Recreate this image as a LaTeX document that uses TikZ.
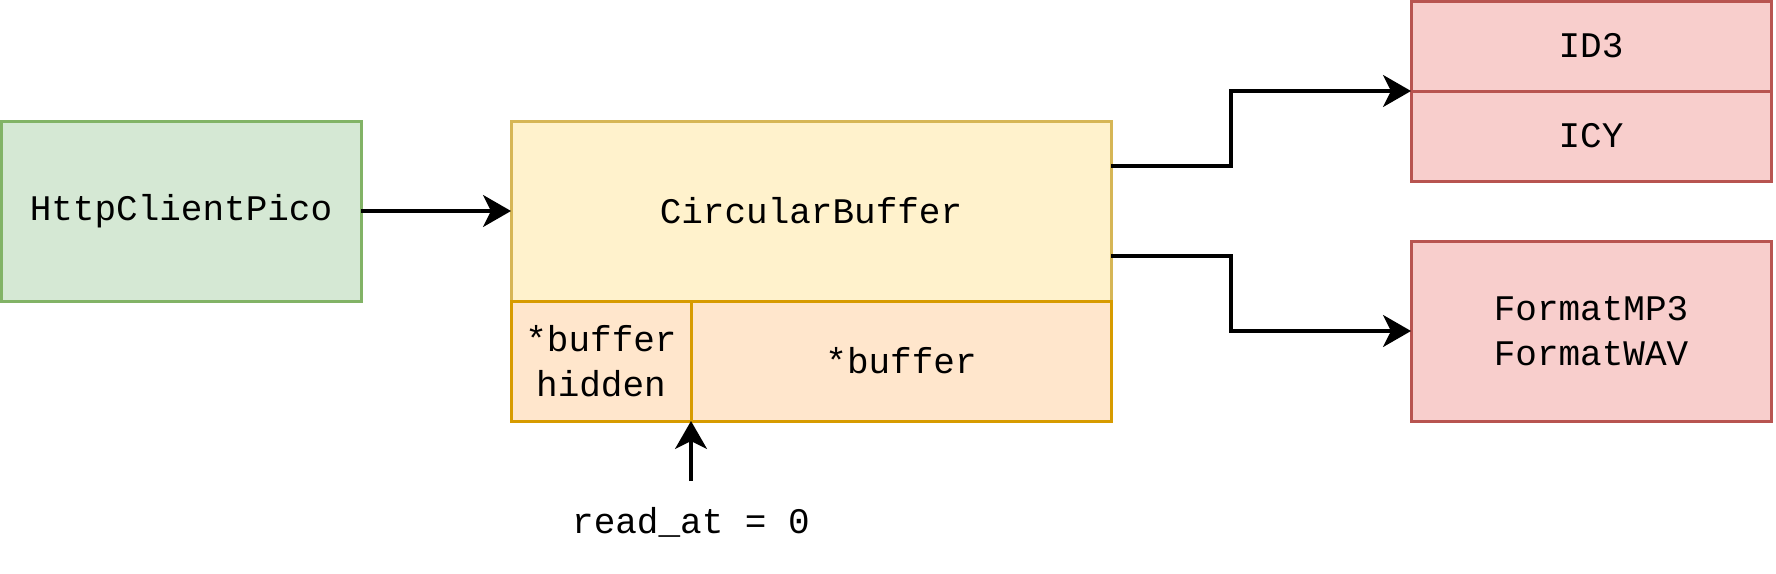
\documentclass[tikz,border=0pt]{standalone}
\usepackage{fontspec}
\setmainfont{Liberation Mono}
\usetikzlibrary{arrows.meta}

\definecolor{greenfill}{HTML}{D5E8D4}
\definecolor{greenline}{HTML}{82B366}
\definecolor{yellowfill}{HTML}{FFF2CC}
\definecolor{yellowline}{HTML}{D6B656}
\definecolor{orangefill}{HTML}{FFE6CC}
\definecolor{orangeline}{HTML}{D79B00}
\definecolor{redfill}{HTML}{F8CECC}
\definecolor{redline}{HTML}{B85450}

\begin{document}
\begin{tikzpicture}[x=0.5pt, y=-0.5pt,
		every node/.append style={font=\fontsize{18}{22.5}\selectfont, inner sep=0pt, outer sep=0pt, align=center},
		box/.style={draw, line width=1.5pt, minimum width=#1},
		greenbox/.style={box=180pt, minimum height=90pt, fill=greenfill, draw=greenline},
		yellowbox/.style={box=300pt, minimum height=90pt, fill=yellowfill, draw=yellowline},
		orangebox/.style={box=#1, minimum height=60pt, fill=orangefill, draw=orangeline},
		redbox/.style={box=180pt, minimum height=#1, fill=redfill, draw=redline},
		arr/.style={line width=1.6pt, -{Stealth[length=14pt, width=16pt, inset=4pt]}}]
		\useasboundingbox (0,0) rectangle (1776,573);

		\node[greenbox] (http) at (181, 211) {HttpClientPico};

		\node[yellowbox] (cb) at (811, 211) {CircularBuffer};
		\node[orangebox=90pt] (hidden) at (601, 361) {*buffer\\hidden};
		\node[orangebox=210pt] (buf) at (901, 361) {*buffer};

		\node[redbox=45pt] (id3) at (1591, 46) {ID3};
		\node[redbox=45pt] (icy) at (1591, 136) {ICY};
		\node[redbox=90pt] (fmt) at (1591, 331) {FormatMP3\\FormatWAV};

		\node (readat) at (691, 522) {read\_at = 0};
		\coordinate (readtip) at (691, 481);

		\draw[arr] (http.east) -- (cb.west);
		\draw[arr] ([yshift=22.5pt]cb.east) -- ++(120,0) |- (id3.south west);
		\draw[arr] ([yshift=-22.5pt]cb.east) -- ++(120,0) |- (fmt.west);
		\draw[arr] (readtip) -- (hidden.south east);
	\end{tikzpicture}
\end{document}
